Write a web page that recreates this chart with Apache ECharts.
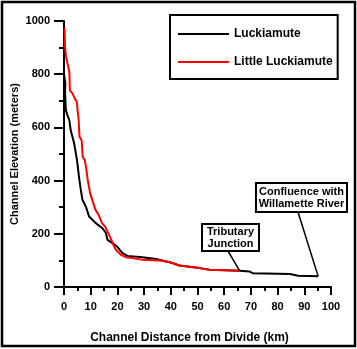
<!DOCTYPE html>
<html><head><meta charset="utf-8">
<script src="https://cdn.jsdelivr.net/npm/echarts@6/dist/echarts.min.js"></script>
<style>html,body{margin:0;padding:0;background:#fff}#c{width:357px;height:349px}</style>
</head><body><div id="c"></div>
<script>
// Luckiamute main stem profile [distance km, elevation m]
const luckiamute = [[0,1000],[0,800],[0.5,765],[0.4,730],[0.7,665],[1.3,645],[2,627],[2.5,590],[3.8,540],[4.9,475],[5.6,415],[6.3,365],[6.9,328],[8.2,302],[9.4,265],[11.9,240],[14.4,221],[15.7,203],[16.3,177],[18,166],[19.9,152],[21.9,127],[23.8,117],[29.3,112],[34.5,105],[40.6,90],[43.2,81],[50.8,71],[54.5,65],[65.8,61],[69.5,58],[70.7,52],[84.6,49],[87.7,42],[95.2,40]];
// Little Luckiamute profile
const littleLuckiamute = [[0.2,975],[0.4,900],[0.8,865],[1.3,840],[2,810],[2.2,740],[3.2,727],[4,710],[4.8,696],[5.2,655],[5.5,628],[5.8,565],[6.6,552],[7,490],[7.8,477],[8.4,440],[8.9,402],[9.8,352],[10.8,321],[11.8,290],[13,271],[14.2,240],[15.4,227],[16.9,196],[18.5,159],[19.4,140],[21.3,121],[23.2,112],[25.7,109],[29.4,102],[35.7,100],[39.5,94],[43.2,81],[50.8,71],[54.5,65],[65.8,61]];
const seriesNames = ['Luckiamute','Little Luckiamute'];
const xTicks = [0,10,20,30,40,50,60,70,80,90,100];
const yTicks = [0,200,400,600,800,1000];
const annotations = [
  {text:'Tributary\nJunction', anchor:[65.8,61]},
  {text:'Confluence with\nWillamette River', anchor:[95.2,40]}
];

const FONT = '"Liberation Sans", Arial, sans-serif';
const chart = echarts.init(document.getElementById('c'), null, {renderer:'canvas'});
chart.setOption({
  animation:false,
  backgroundColor:'#fff',
  grid:{left:64,right:26,top:21,bottom:62,containLabel:false,outerBoundsMode:'none'},
  legend:{
    orient:'vertical', left:170, top:15,
    padding:[12,5,10,8], itemGap:14,
    borderColor:'#000', borderWidth:2,
    itemWidth:51, itemHeight:2, icon:'rect',
    textStyle:{fontFamily:FONT,fontWeight:'bold',fontSize:12,color:'#000',lineHeight:14},
    data:seriesNames
  },
  xAxis:{
    type:'value', min:xTicks[0], max:xTicks[xTicks.length-1], interval:10,
    name:'Channel Distance from Divide (km)', nameLocation:'middle', nameGap:45, nameMoveOverlap:false,
    nameTextStyle:{fontFamily:FONT,fontWeight:'bold',fontSize:12,color:'#000',padding:[0,16,0,0]},
    axisLine:{lineStyle:{color:'#000',width:2}},
    axisTick:{length:8,lineStyle:{color:'#000',width:2}},
    minorTick:{show:true,splitNumber:2,length:4,lineStyle:{color:'#000',width:2}},
    axisLabel:{margin:14,fontFamily:FONT,fontWeight:'bold',fontSize:11,color:'#000',formatter:v=>String(v)},
    splitLine:{show:false}
  },
  yAxis:{
    type:'value', min:yTicks[0], max:yTicks[yTicks.length-1], interval:200,
    name:'Channel Elevation (meters)', nameLocation:'middle', nameGap:44, nameMoveOverlap:false,
    nameTextStyle:{fontFamily:FONT,fontWeight:'bold',fontSize:11,color:'#000'},
    axisLine:{show:true,lineStyle:{color:'#000',width:2}},
    axisTick:{show:true,length:10,lineStyle:{color:'#000',width:2}},
    minorTick:{show:true,splitNumber:2,length:5,lineStyle:{color:'#000',width:2}},
    axisLabel:{margin:14,fontFamily:FONT,fontWeight:'bold',fontSize:11,color:'#000',formatter:v=>String(v)},
    splitLine:{show:false}
  },
  series:[
    {name:seriesNames[0],type:'line',data:luckiamute,showSymbol:false,symbol:'none',
     lineStyle:{color:'#000',width:2},itemStyle:{color:'#000'},z:2},
    {name:seriesNames[1],type:'line',data:littleLuckiamute,showSymbol:false,symbol:'none',
     lineStyle:{color:'#ff0000',width:2},itemStyle:{color:'#ff0000'},z:3}
  ]
});

// annotation boxes (pixel layout) pointing at data anchors
const boxes = [
  {x:202,y:224,w:57,h:27,tail:[228,251]},
  {x:256,y:183,w:91,h:29,tail:[298,212]}
];
const g = [];
annotations.forEach((a,i)=>{
  const b = boxes[i];
  const p = chart.convertToPixel({gridIndex:0}, a.anchor);
  g.push({type:'line',shape:{x1:b.tail[0],y1:b.tail[1],x2:p[0],y2:p[1]},style:{stroke:'#000',lineWidth:1.5},z:10});
  g.push({type:'rect',shape:{x:b.x,y:b.y,width:b.w,height:b.h},style:{fill:'#fff',stroke:'#000',lineWidth:2},z:11});
  g.push({type:'text',x:b.x+b.w/2,y:b.y+b.h/2,style:{text:a.text,fill:'#000',font:'bold 11px '+FONT,align:'center',verticalAlign:'middle',lineHeight:12},z:12});
});
g.push({type:'rect',shape:{x:2,y:2,width:353,height:344},style:{fill:null,stroke:'#000',lineWidth:2.5},z:20});
chart.setOption({graphic:g});
</script></body></html>
